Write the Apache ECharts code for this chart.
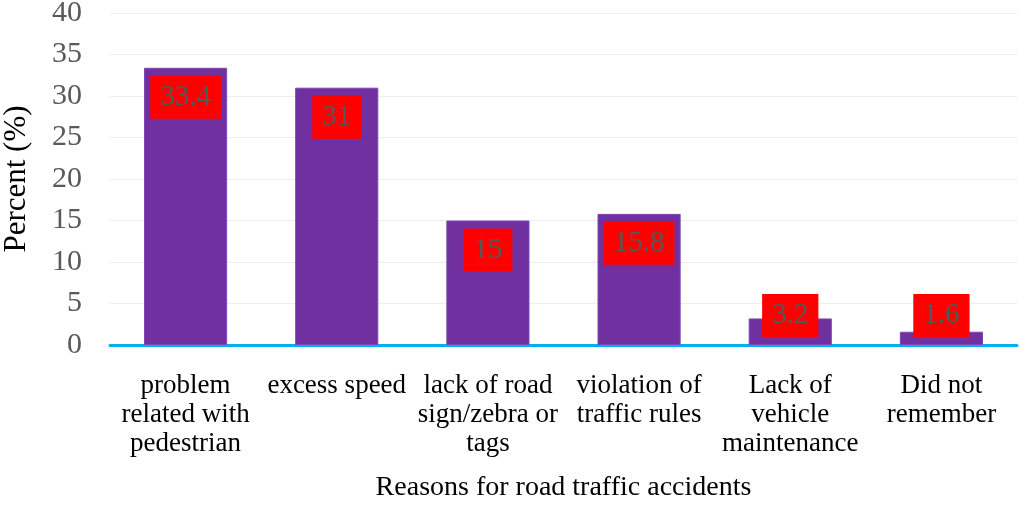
<!DOCTYPE html>
<html>
<head>
<meta charset="utf-8">
<script src="https://cdn.jsdelivr.net/npm/echarts@6/dist/echarts.min.js"></script>
<style>html,body{margin:0;padding:0;background:#fff}#c{width:1021px;height:507px}</style>
</head>
<body>
<div id="c"></div>
<script>
var categories = ["problem\nrelated with\npedestrian", "excess speed", "lack of road\nsign/zebra or\ntags", "violation of\ntraffic rules", "Lack of\nvehicle\nmaintenance", "Did not\nremember"];
var values = [33.4, 31, 15, 15.8, 3.2, 1.6];
var yTicks = { min: 0, max: 40, interval: 5 };
var FONT = "'Liberation Serif','Times New Roman',serif";

var data = values.map(function (v) {
  return {
    value: v,
    label: v < 6 ? { position: 'insideBottom', distance: 8 } : { position: 'insideTop', distance: 8 }
  };
});

var chart = echarts.init(document.getElementById('c'));
chart.setOption({
  animation: false,
  grid: { left: 110, right: 4, top: 13, bottom: 162, containLabel: false, outerBoundsMode: 'none' },
  xAxis: {
    type: 'category',
    data: categories,
    name: 'Reasons for road traffic accidents',
    nameLocation: 'middle',
    nameGap: 129,
    nameTextStyle: { fontFamily: FONT, fontSize: 28, color: '#000' },
    axisLine: { lineStyle: { color: '#00B0F0', width: 3 } },
    axisTick: { show: false },
    axisLabel: { fontFamily: FONT, fontSize: 27, color: '#000', lineHeight: 29, margin: 26, interval: 0 }
  },
  yAxis: {
    type: 'value',
    min: yTicks.min, max: yTicks.max, interval: yTicks.interval,
    name: 'Percent (%)',
    nameLocation: 'middle',
    nameGap: 78,
    nameTextStyle: { fontFamily: FONT, fontSize: 31, color: '#000' },
    axisLine: { show: false },
    axisTick: { show: false },
    axisLabel: { fontFamily: FONT, fontSize: 30, color: '#595959', margin: 28 },
    splitLine: { lineStyle: { color: '#ededed', width: 1 } }
  },
  series: [{
    type: 'bar',
    data: data,
    barWidth: '55%',
    itemStyle: { color: '#7030A0', borderColor: '#8046b5', borderWidth: 1 },
    label: {
      show: true,
      fontFamily: FONT,
      fontSize: 29,
      color: '#4f5a5a',
      backgroundColor: '#FF0000',
      padding: [7, 10, 7, 10],
      lineHeight: 29
    }
  }]
});
</script>
</body>
</html>
